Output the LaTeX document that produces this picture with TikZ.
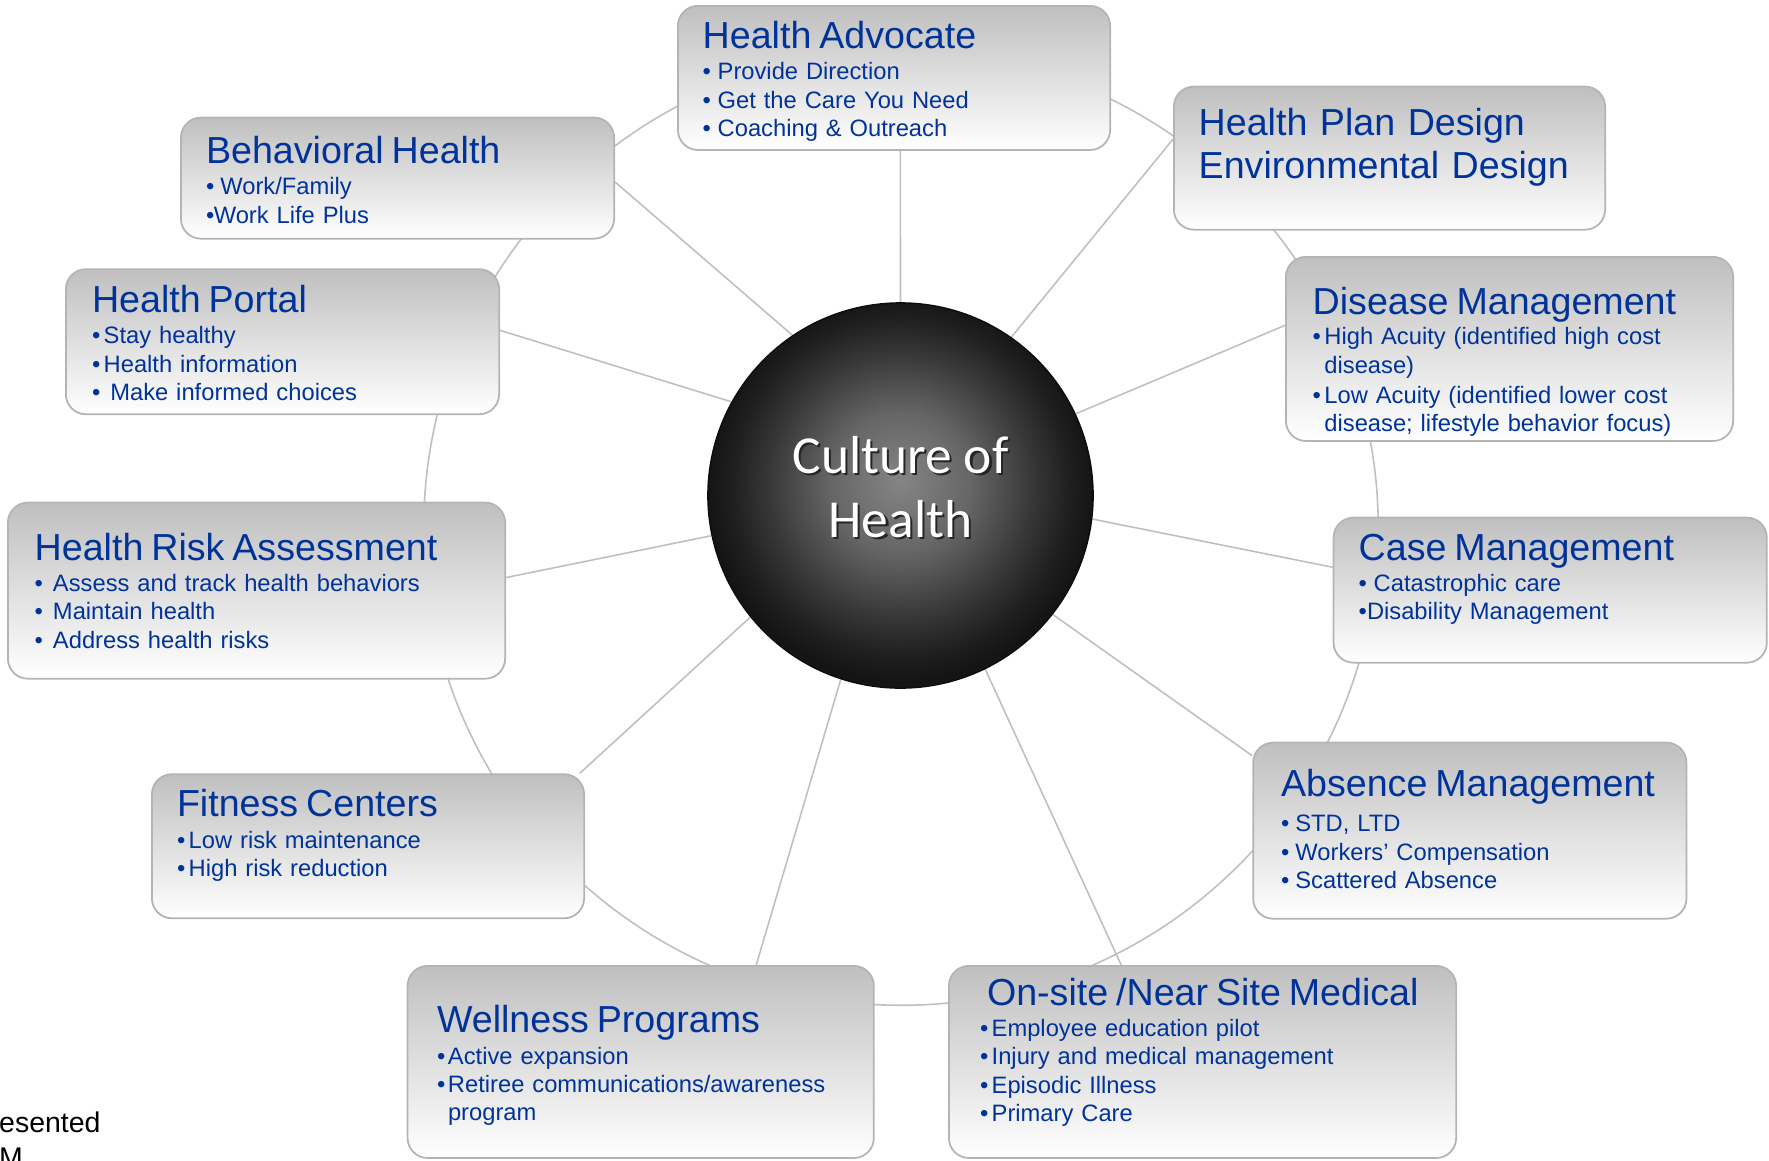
\documentclass[tikz,border=0pt]{standalone}
\usepackage{fontspec}
\setmainfont{Liberation Sans}
\newfontfamily\hubfont{Carlito}
\usepackage{xcolor}
\usetikzlibrary{positioning, calc, backgrounds}
\definecolor{cText}{HTML}{003399}
\definecolor{cLine}{HTML}{BFBFBF}
\definecolor{cEdge}{HTML}{B4B4B4}
\newlength{\pxu}
\setlength{\pxu}{0.01cm}
\pgfdeclareradialshading{hubglow}{\pgfpoint{0bp}{2bp}}{%
  color(0bp)=(black!48); color(9bp)=(black!60); color(17bp)=(black!78);
  color(22bp)=(black!88); color(25bp)=(black!92); color(50bp)=(black!92)}
\tikzset{
  card/.style={
    draw=cEdge, line width=0.5pt,
    rounded corners=0.2cm,
    top color=black!25, bottom color=white,
    anchor=north west,
    minimum width=4.32cm,
    minimum height=1.44cm,
    inner sep=0pt
  },
  cardtext/.style={
    anchor=base west,
    inner sep=0pt,
    text=cText,
    text width=5cm,
    align=left,
    font=\fontsize{6.75}{8.05}\selectfont
  },
  hub/.style={
    circle, draw=black!95, line width=0.4pt,
    shade, shading=hubglow,
    minimum size=3.85cm,
    text=white, align=center,
    font=\hubfont\fontsize{15.2}{18.2}\selectfont
  },
  spoke/.style={
    draw=cLine,
    line width=0.45pt
  },
  cutnote/.style={
    anchor=base west,
    inner sep=0pt,
    text width=2cm,
    align=left,
    font=\fontsize{8.1}{10.2}\selectfont
  }
}
\newcommand{\cardhead}[1]{{\fontsize{10.7}{12.5}\selectfont #1}}
\newcommand{\itm}[2][11.7]{\makebox[#1\pxu][l]{\textbullet}#2}
\newcommand{\cont}[2][11.7]{\hspace*{#1\pxu}#2}
\newcommand{\glow}[1]{\rlap{\kern0.6pt\raisebox{-0.6pt}{\color{black!85}#1}}#1}

\begin{document}
\begin{tikzpicture}[x=0.01cm, y=-0.01cm]
  \useasboundingbox (0,0) rectangle (1769,1160);

  % centre
  \node[hub] (hub) at (900.5,495.5) {\glow{Culture of}\\\glow{Health}\rule[-5.1pt]{0pt}{5.1pt}};
  \coordinate (ringc) at (901,528);

  % cards round the ring
  \node[card] (ha) at (677,5) {};
  \node[card, minimum width=4.33cm, minimum height=1.21cm] (bh) at (180,116.7) {};
  \node[card, minimum width=4.31cm, minimum height=1.43cm] (hpd) at (1173,85.7) {};
  \node[card, minimum width=4.33cm, minimum height=1.45cm] (hp) at (65,268.3) {};
  \node[card, minimum width=4.47cm, minimum height=1.84cm] (dm) at (1285,256) {};
  \node[card, minimum width=4.97cm, minimum height=1.76cm] (hra) at (7,501.7) {};
  \node[card, minimum width=4.33cm, minimum height=1.45cm] (cm) at (1332.7,516.7) {};
  \node[card, minimum width=4.33cm, minimum height=1.76cm] (am) at (1252.3,741.7) {};
  \node[card] (fc) at (151,773.3) {};
  \node[card, minimum width=4.66cm, minimum height=1.92cm] (wp) at (406.7,965) {};
  \node[card, minimum width=5.07cm, minimum height=1.92cm] (os) at (948,965) {};

  % card texts
  \node[cardtext] (ha-t) at ([shift={(25,43.3)}]ha.north west)
    {\cardhead{Health Advocate}\\[0.9pt]
     \itm[15]{Provide Direction}\\
     \itm[15]{Get the Care You Need}\\
     \itm[15]{Coaching \& Outreach}};
  \node[cardtext] (bh-t) at ([shift={(25.3,46.6)}]bh.north west)
    {\cardhead{Behavioral Health}\\[0.9pt]
     \itm[14.4]{Work/Family}\\
     \itm[7.8]{Work Life Plus}};
  \node[cardtext, font=\fontsize{10.7}{12.5}\selectfont] (hpd-t) at ([shift={(25,49.3)}]hpd.north west)
    {Health Plan Design\\Environmental Design};
  \node[cardtext] (hp-t) at ([shift={(26.3,44)}]hp.north west)
    {\cardhead{Health Portal}\\[0.9pt]
     \itm{Stay healthy}\\
     \itm{Health information}\\
     \itm[18.3]{Make informed choices}};
  \node[cardtext] (dm-t) at ([shift={(27,58.3)}]dm.north west)
    {\cardhead{Disease Management}\\[0.6pt]
     \itm{High Acuity (identified high cost}\\
     \cont{disease)}\\[0.5pt]
     \itm{Low Acuity (identified lower cost}\\
     \cont{disease; lifestyle behavior focus)}};
  \node[cardtext] (hra-t) at ([shift={(27,58.3)}]hra.north west)
    {\cardhead{Health Risk Assessment}\\[0.9pt]
     \itm[18.3]{Assess and track health behaviors}\\
     \itm[18.3]{Maintain health}\\
     \itm[18.3]{Address health risks}};
  \node[cardtext] (cm-t) at ([shift={(25.3,43.3)}]cm.north west)
    {\cardhead{Case Management}\\[0.9pt]
     \itm[15]{Catastrophic care}\\
     \itm[8.3]{Disability Management}};
  \node[cardtext] (am-t) at ([shift={(28,55)}]am.north west)
    {\cardhead{Absence Management}\\[1.9pt]
     \itm[14.4]{STD, LTD}\\
     \itm[14.4]{Workers’ Compensation}\\
     \itm[14.4]{Scattered Absence}};
  \node[cardtext] (fc-t) at ([shift={(25.3,43.4)}]fc.north west)
    {\cardhead{Fitness Centers}\\[0.9pt]
     \itm{Low risk maintenance}\\
     \itm{High risk reduction}};
  \node[cardtext] (wp-t) at ([shift={(29.6,67.7)}]wp.north west)
    {\cardhead{Wellness Programs}\\[0.9pt]
     \itm[11]{Active expansion}\\
     \itm[11]{Retiree communications/awareness}\\
     \cont[11]{program}};
  \node[cardtext] (os-t) at ([shift={(31.3,40)}]os.north west)
    {\hspace*{7\pxu}\cardhead{On-site /Near Site Medical}\\[0.9pt]
     \itm{Employee education pilot}\\
     \itm{Injury and medical management}\\
     \itm{Episodic Illness}\\
     \itm{Primary Care}};

  \node[cutnote] (credit) at (-1.5,1132) {esented\\M};

  % ring and spokes behind everything
  \begin{scope}[on background layer]
    \draw[spoke] (ringc) circle[radius=4.77cm];
    \draw[spoke] (hub.90) -- (ha.-85);
    \draw[spoke] (hub.124.8) -- (bh.-1.8);
    \draw[spoke] (hub.55.2) -- (hpd.175.6);
    \draw[spoke] (hub.151.3) -- (hp.3);
    \draw[spoke] (hub.25.3) -- (dm.174.6);
    \draw[spoke] (hub.192.5) -- (hra.3.8);
    \draw[spoke] (hub.-7.6) -- (cm.174.8);
    \draw[spoke] (hub.-38.2) -- (am.161.1);
    \draw[spoke] (hub.-64.3) -- (os.130.8);
    \draw[spoke] (hub.252.3) -- (wp.40.9);
    \draw[spoke] (hub.219.7) -- (fc.19.9);
  \end{scope}
\end{tikzpicture}
\end{document}
